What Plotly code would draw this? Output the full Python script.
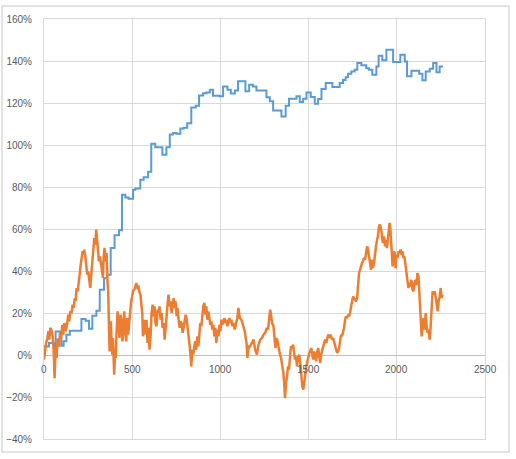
import plotly.graph_objects as go

# ── Data (values in %) ─────────────────────────────────────────────────────────
# blue series: step start positions and levels
STEP_X = [0, 28, 60, 66, 98, 111, 127, 146, 212, 236, 255, 274, 297, 316, 340,
          357, 378, 400, 425, 442, 461, 480, 505, 518, 546, 565, 590, 608, 631,
          671, 694, 713, 731, 750, 773, 792, 812, 835, 860, 879, 902, 921, 940,
          958, 996, 1015, 1040, 1059, 1082, 1100, 1142, 1163, 1185, 1204, 1261,
          1280, 1299, 1346, 1370, 1389, 1431, 1450, 1469, 1488, 1512, 1535,
          1554, 1573, 1597, 1635, 1676, 1695, 1710, 1723, 1742, 1761, 1776,
          1799, 1827, 1842, 1861, 1884, 1897, 1918, 1941, 1979, 2020, 2045,
          2058, 2083, 2127, 2145, 2164, 2187, 2206, 2225, 2243, 2262]
STEP_Y = [4.1, 5.7, 2.9, 11.2, 4.4, 6.5, 9.7, 11.6, 17.1, 16.3, 12.5, 18.7,
          21.1, 31.1, 36.6, 38.2, 50.9, 57.0, 59.4, 76.3, 75.0, 74.4, 78.7,
          79.3, 83.5, 84.7, 87.3, 100.6, 98.9, 95.4, 98.9, 105.0, 105.7, 105.4,
          107.8, 108.2, 110.3, 117.9, 118.7, 123.6, 124.7, 125.0, 126.3, 123.5,
          123.2, 127.9, 126.3, 124.5, 126.0, 130.3, 125.6, 128.7, 127.9, 126.0,
          122.7, 120.8, 116.4, 113.6, 118.7, 122.0, 123.2, 120.5, 122.0, 125.0,
          122.8, 119.7, 121.9, 126.7, 129.5, 127.6, 129.5, 131.0, 132.3, 133.9,
          135.0, 135.8, 139.0, 138.0, 136.6, 135.8, 133.4, 137.4, 142.5, 140.3,
          145.3, 139.5, 143.0, 139.8, 132.7, 135.4, 133.9, 130.8, 135.0, 136.3,
          139.0, 134.6, 137.4, 137.4]

# orange series: traced points
NOISY_X = [0, 6, 12, 19, 25, 30, 36, 42, 49, 55, 60, 66, 72, 77, 85, 91, 96,
           104, 109, 115, 123, 130, 138, 143, 149, 157, 162, 168, 174, 179, 185,
           191, 196, 202, 208, 213, 219, 225, 228, 234, 240, 245, 251, 257, 262,
           268, 274, 279, 285, 291, 296, 302, 308, 311, 317, 323, 328, 334, 338,
           343, 349, 355, 360, 364, 368, 372, 376, 379, 383, 387, 391, 394, 398,
           402, 406, 411, 417, 423, 428, 434, 440, 445, 449, 455, 460, 466, 472,
           477, 483, 489, 494, 500,
           505, 513, 523, 530, 536, 542, 547, 551, 557, 561, 566, 572, 578, 581,
           587, 593, 598, 604, 610, 616, 621, 627, 632, 638, 644, 650, 655, 661,
           667, 672, 678, 684, 689, 695, 701, 706, 712, 718, 723, 729, 735, 740,
           746, 752, 757, 763, 769, 774, 780, 786, 792, 797, 803, 809, 814, 820,
           826, 831, 835, 841, 846, 852, 858, 863, 869, 875, 880, 886, 892, 898,
           903, 909, 915, 920, 926, 932, 937, 943, 949, 954, 960, 966, 971, 977,
           983, 989, 994, 1000, 1006, 1011, 1017, 1023, 1028, 1034, 1040, 1045,
           1051, 1057, 1062, 1068, 1074,
           1081, 1091, 1096, 1102, 1110, 1119, 1129, 1138, 1148, 1153, 1161,
           1169, 1178, 1188, 1197, 1207, 1216, 1226, 1235, 1244, 1254, 1263,
           1270, 1278, 1282, 1287, 1293, 1301, 1306, 1312, 1320, 1325, 1331,
           1338, 1344, 1351, 1357, 1363, 1366, 1372, 1378, 1383, 1389, 1395,
           1400, 1406, 1412, 1417, 1423, 1429, 1434, 1440, 1447, 1453, 1459,
           1464, 1470, 1476, 1481, 1487, 1493, 1498, 1504, 1509, 1515, 1521,
           1526, 1532, 1538, 1543, 1549, 1555, 1560, 1566, 1571, 1577, 1583,
           1588, 1594, 1600, 1605, 1611, 1616, 1622, 1627, 1633, 1639, 1645,
           1650, 1656, 1662, 1667, 1673, 1679, 1684, 1690, 1696, 1701, 1707,
           1712, 1718, 1724, 1729, 1735, 1741, 1746, 1752, 1758, 1763, 1769,
           1775, 1780, 1786, 1792, 1798, 1803, 1808, 1814, 1820, 1826, 1832,
           1837, 1843, 1848, 1854, 1860, 1865, 1871, 1876, 1882, 1888, 1893,
           1899, 1904, 1910, 1916, 1921, 1927, 1933, 1939, 1944, 1950, 1955,
           1959, 1964, 1970, 1976, 1981, 1987, 1993, 1998, 2004, 2010, 2015,
           2021, 2027, 2032, 2038, 2043, 2049, 2055, 2060, 2066, 2072, 2077,
           2083, 2089, 2094, 2100, 2106, 2111, 2117, 2123, 2128, 2132, 2136,
           2141, 2147, 2152, 2158, 2164, 2169, 2175, 2181, 2186, 2192, 2198,
           2203, 2209, 2215, 2220, 2226, 2232, 2237, 2243, 2249, 2254, 2258]
NOISY_Y = [-2.2, 3.3, 5.7, 8.0, 11.3, 7.3, 12.9, 12.1, 8.9, 1.7, -11.0, 3.3,
           -1.4, 8.0, 4.0, 11.0, 7.3, 14.4, 9.7, 15.2, 11.3, 14.4, 19.2, 16.0,
           20.8, 20.0, 24.0, 22.4, 27.0, 25.6, 31.9, 30.3, 35.9, 38.3, 43.0,
           46.2, 49.4, 47.8, 50.2, 47.0, 41.4, 38.3, 39.8, 34.3, 31.9, 38.3,
           43.8, 50.2, 55.7, 52.5, 59.7, 54.1, 49.4, 44.6, 47.0, 43.0, 39.8,
           36.7, 46.2, 51.0, 44.6, 48.6, 35.0, 30.3, 14.4, 1.7, 11.3, 16.0, 4.9,
           0.2, 8.1, -4.6, -9.4, 0.0, -1.4, 9.7, 20.8, 14.4, 8.1, 19.2, 16.0,
           6.5, 16.0, 20.8, 11.3, 6.5, 17.6, 9.7, 15.2, 22.4, 25.6, 27.9,
           30.5, 31.1, 34.3, 32.0, 32.4, 29.5, 28.7, 24.8, 20.0, 8.9, 14.4, 16.8,
           9.7, 16.8, 5.7, 12.9, 2.5, 8.9, 20.0, 24.0, 18.4, 23.2, 15.2, 13.7,
           21.6, 20.0, 23.2, 16.8, 20.0, 12.9, 15.2, 7.3, 12.1, 20.0, 24.8, 28.7,
           23.2, 25.6, 20.0, 23.2, 27.1, 22.4, 25.6, 18.4, 22.4, 16.8, 12.9,
           16.0, 15.2, 10.5, 13.7, 16.8, 19.2, 16.8, 13.7, 8.9, 4.1, -0.6, -5.4,
           2.5, 0.2, 4.1, 6.5, 2.5, 8.9, 4.1, 12.1, 15.2, 13.7, 21.6, 23.2, 24.8,
           19.2, 23.2, 16.8, 20.8, 18.4, 14.4, 16.0, 12.1, 14.4, 8.9, 12.9, 5.7,
           12.1, 8.9, 14.4, 11.3, 16.8, 14.4, 16.0, 17.6, 15.2, 16.8, 13.7, 15.2,
           17.6, 15.2, 16.8, 13.7, 15.2,
           12.1, 15.2, 17.6, 22.4, 17.6, 16.8, 14.4, 11.3, 5.7, -1.4, 4.1,
           4.1, 5.7, 7.3, 2.5, 0.2, 4.9, 7.3, 8.1, 9.7, 10.5, 12.9,
           12.1, 16.8, 21.6, 19.2, 15.2, 13.7, 8.9, 3.3, 8.1, 5.7, 1.7,
           0.2, -1.4, -4.6, -8.6, -14.9, -20.5, -13.3, -10.2, -5.4, -7.0, -0.6,
           4.1, 3.3, 4.9, 1.7, -2.2, -0.6, -5.4, -1.4, 0.2, -3.8, -10.2,
           -14.9, -16.5, -11.7, -8.6, -5.4, -3.0, -0.6, 1.0, 1.7, 3.3, 0.2,
           -2.2, 1.7, -0.6, -3.0, 1.7, 3.3, -0.6, -3.8, 0.2, 1.7, 4.1,
           5.7, 7.3, 5.7, 8.1, 9.7, 8.1, 9.7, 8.9, 7.3, 8.1, 5.7,
           4.9, 2.5, 1.0, 1.7, 3.3, 7.3, 9.7, 8.9, 10.5, 12.9, 16.8,
           18.4, 17.6, 19.2, 18.4, 20.0, 23.2, 25.6, 27.9, 27.1, 26.3, 25.6,
           27.1, 32.7, 39.0, 40.6, 43.0, 43.8, 44.6, 46.2, 45.4, 48.6, 51.7,
           50.2, 47.0, 42.2, 40.6, 45.4, 41.4, 43.8, 48.6, 51.7, 54.9, 56.5,
           61.3, 62.1, 60.5, 56.5, 53.3, 56.5, 51.7, 54.9, 50.9, 55.7, 60.5,
           62.9, 59.7, 48.6, 42.2, 46.2, 49.4, 41.4, 47.8, 46.2, 49.4, 48.6,
           50.2, 47.8, 49.4, 46.2, 47.0, 43.0, 37.3, 35.8, 31.9, 34.3, 32.7,
           35.8, 31.1, 30.3, 34.3, 35.8, 33.3, 39.0, 37.5, 31.9, 23.2, 16.8,
           8.9, 15.2, 17.6, 12.1, 20.0, 13.7, 10.5, 12.1, 7.3, 13.7, 23.2,
           30.3, 28.7, 30.3, 27.9, 24.8, 20.8, 25.6, 27.9, 31.9, 27.1, 28.7]

X_TICKS = [0, 500, 1000, 1500, 2000, 2500]

# ── Styling ────────────────────────────────────────────────────────────────────
_GRID = "#D9D9D9"
_TEXT = "#595959"
_FONT = dict(family="Liberation Sans", size=10, color=_TEXT)

fig = go.Figure()
fig.add_trace(go.Scatter(
    x=STEP_X, y=STEP_Y, mode="lines", line_shape="hv",
    line=dict(color="#5B9BD5", width=2),
))
fig.add_trace(go.Scatter(
    x=NOISY_X, y=NOISY_Y, mode="lines",
    line=dict(color="#ED7D31", width=2.5),
))

# x labels sit just under the 0% line, Excel-style
for t in X_TICKS:
    fig.add_annotation(x=t, y=0, text=str(t), showarrow=False,
                       yanchor="top", yshift=-7, font=_FONT)

# light outer chart-area border (drawn outside the plot area)
fig.add_shape(type="rect", xref="paper", yref="paper",
              x0=-42 / 441, x1=(509 - 44) / 441,
              y0=-(452 - 439) / 420, y1=(439 - 6) / 420,
              line=dict(color=_GRID, width=1.5), fillcolor="rgba(0,0,0,0)",
              layer="above")

fig.update_layout(
    width=516, height=459,
    margin=dict(l=44, r=31, t=19, b=20, autoexpand=False),
    plot_bgcolor="white", paper_bgcolor="white",
    showlegend=False,
    xaxis=dict(range=[0, 2500], tickvals=X_TICKS, showticklabels=False,
               showgrid=True, gridcolor=_GRID, gridwidth=1, zeroline=False,
               showline=True, mirror=True, linecolor=_GRID, ticks="",
               automargin=False),
    yaxis=dict(range=[-40, 160], dtick=20, ticksuffix="%", tickfont=_FONT,
               showgrid=True, gridcolor=_GRID, gridwidth=1,
               zeroline=True, zerolinecolor="#BFBFBF", zerolinewidth=1,
               showline=True, mirror=True, linecolor=_GRID, ticks="",
               ticklabelstandoff=9, automargin=False),
)

# drop the default page margin so the chart sits at the window's corner
fig.write_html("out.html", config={"displayModeBar": False},
               post_script="document.body.style.margin='0';")
